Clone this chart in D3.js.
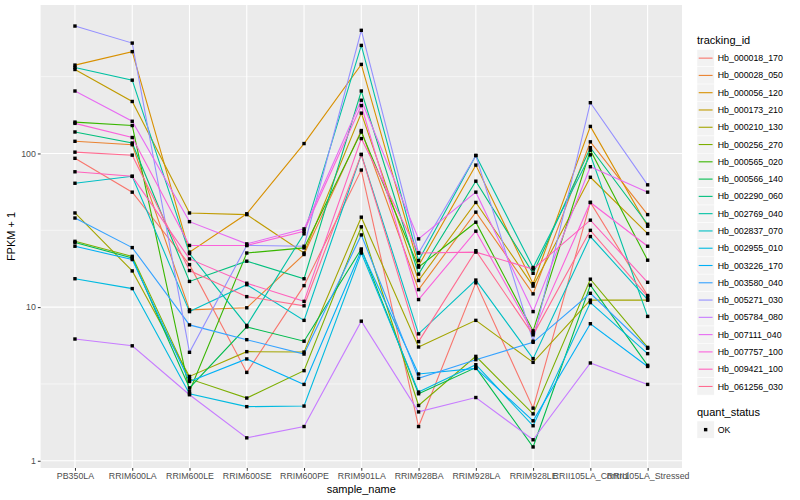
<!DOCTYPE html>
<html>
<head>
<meta charset="utf-8">
<script src="https://cdn.jsdelivr.net/npm/d3@7"></script>
<style>
  body { margin: 0; background: #fff; }
  text { font-family: "Liberation Sans", Arial, Helvetica, sans-serif; }
</style>
</head>
<body>
<script>
const samples = [
  'PB350LA', 'RRIM600LA', 'RRIM600LE', 'RRIM600SE', 'RRIM600PE', 'RRIM901LA',
  'RRIM928BA', 'RRIM928LA', 'RRIM928LE', 'RRII105LA_Control', 'RRII105LA_Stressed'
];

const trackingIds = [
  'Hb_000018_170', 'Hb_000028_050', 'Hb_000056_120', 'Hb_000173_210', 'Hb_000210_130',
  'Hb_000256_270', 'Hb_000565_020', 'Hb_000566_140', 'Hb_002290_060', 'Hb_002769_040',
  'Hb_002837_070', 'Hb_002955_010', 'Hb_003226_170', 'Hb_003580_040', 'Hb_005271_030',
  'Hb_005784_080', 'Hb_007111_040', 'Hb_007757_100', 'Hb_009421_100', 'Hb_061256_030'
];

// FPKM + 1, one row per tracking id, columns in the order of samples
const fpkmPlus1 = [
  [93, 56, 18.9, 3.76, 13.8, 78, 1.67, 14.4, 2.2, 48, 11.9],
  [120, 114, 9.6, 9.9, 22, 141, 13, 41.5, 12.2, 119, 40],
  [376, 460, 22.8, 40.5, 116, 380, 18.6, 84, 14.2, 150, 33.6],
  [352, 218, 41, 40, 22.5, 183, 14.9, 48, 13.7, 70, 30.1],
  [41, 17.2, 3.54, 5.13, 5.1, 38.5, 5.5, 8.2, 4.37, 11.1, 11.1],
  [26.8, 21.4, 3.41, 2.56, 3.86, 33.3, 2.29, 4.78, 2.02, 15.2, 5.47],
  [160, 152, 2.83, 22.5, 24.3, 138, 18.2, 35.7, 7.0, 105, 20.2],
  [26.3, 20.9, 2.98, 7.43, 6.0, 23.9, 2.73, 4.04, 1.23, 13.9, 4.18],
  [138, 117, 14.7, 19.9, 15.3, 255, 16.4, 66, 16.6, 109, 34.6],
  [363, 300, 22.3, 7.6, 30, 505, 20.1, 97, 18.1, 98, 8.7],
  [64, 71, 9.35, 14, 8.2, 98.5, 6.7, 15, 4.62, 28.8, 11.2],
  [15.3, 13.2, 2.73, 2.25, 2.27, 22.5, 2.8, 4.22, 1.69, 10.7, 4.98],
  [24.9, 20.4, 3.28, 4.6, 3.14, 23.4, 3.67, 3.99, 1.82, 7.8, 4.11],
  [38, 24.4, 7.66, 6.14, 4.95, 29.5, 3.44, 4.55, 5.9, 12.3, 5.4],
  [675, 523, 5.08, 25.2, 24.9, 633, 22.5, 97, 6.0, 214, 62.5],
  [6.2, 5.6, 2.69, 1.41, 1.67, 8.1, 2.08, 2.58, 1.37, 4.33, 3.14],
  [255, 162, 36, 25.8, 32.3, 222, 27.8, 56, 9.35, 82, 56],
  [157, 127, 25.2, 25.2, 31.2, 205, 11.2, 31.2, 6.8, 48, 24.9],
  [76, 71, 20.6, 14.3, 10.9, 125, 22.5, 22.8, 17.7, 36.8, 14.5],
  [102, 97.5, 17.3, 11.7, 10.2, 98.5, 5.96, 23.3, 6.6, 31.6, 11.7]
];

const yTicks = [1, 10, 100];
const quantStatus = ['OK'];

// ggplot hue palette, 20 levels
const palette = [
  '#F8766D', '#EA8331', '#D89000', '#C09B00', '#A3A500', '#7CAE00', '#39B600',
  '#00BB4E', '#00BF7D', '#00C1A3', '#00BFC4', '#00BAE0', '#00B0F6', '#35A2FF',
  '#9590FF', '#C77CFF', '#E76BF3', '#FA62DB', '#FF62BC', '#FF6C91'
];

const width = 800;
const height = 500;
const panel = { left: 40.6, right: 682, top: 5, bottom: 468 };

const svg = d3.select('body')
  .append('svg')
  .attr('width', width)
  .attr('height', height);

// SCALES
const xScale = d3.scalePoint()
  .domain(samples)
  .range([panel.left, panel.right])
  .padding(0.6);

const allVals = fpkmPlus1.flat();
const lo = Math.log10(d3.min(allVals));
const hi = Math.log10(d3.max(allVals));
const pad = (hi - lo) * 0.05;
const yScale = d3.scaleLog()
  .domain([Math.pow(10, lo - pad), Math.pow(10, hi + pad)])
  .range([panel.bottom, panel.top]);

const color = d3.scaleOrdinal().domain(trackingIds).range(palette);

// PANEL
svg.append('rect')
  .attr('x', panel.left)
  .attr('y', panel.top)
  .attr('width', panel.right - panel.left)
  .attr('height', panel.bottom - panel.top)
  .attr('fill', '#EBEBEB');

// minor grid (half decades)
const minorTicks = yTicks.map(t => t * Math.sqrt(10));
svg.append('g')
  .selectAll('line')
  .data(minorTicks)
  .enter()
  .append('line')
  .attr('x1', panel.left)
  .attr('x2', panel.right)
  .attr('y1', d => yScale(d))
  .attr('y2', d => yScale(d))
  .attr('stroke', '#fff')
  .attr('stroke-width', 0.55);

svg.append('g')
  .selectAll('line')
  .data(yTicks)
  .enter()
  .append('line')
  .attr('x1', panel.left)
  .attr('x2', panel.right)
  .attr('y1', d => yScale(d))
  .attr('y2', d => yScale(d))
  .attr('stroke', '#fff')
  .attr('stroke-width', 1.1);

svg.append('g')
  .selectAll('line')
  .data(samples)
  .enter()
  .append('line')
  .attr('x1', d => xScale(d))
  .attr('x2', d => xScale(d))
  .attr('y1', panel.top)
  .attr('y2', panel.bottom)
  .attr('stroke', '#fff')
  .attr('stroke-width', 1.1);

// LINES
const line = d3.line()
  .x((d, i) => xScale(samples[i]))
  .y(d => yScale(d));

svg.append('g')
  .selectAll('path')
  .data(fpkmPlus1)
  .enter()
  .append('path')
  .attr('d', d => line(d))
  .attr('fill', 'none')
  .attr('stroke', (d, i) => color(trackingIds[i]))
  .attr('stroke-width', 1.1);

// POINTS
const pts = [];
fpkmPlus1.forEach((row, r) => row.forEach((v, c) => pts.push({ sample: samples[c], v })));
svg.append('g')
  .selectAll('rect')
  .data(pts)
  .enter()
  .append('rect')
  .attr('x', d => xScale(d.sample) - 1.7)
  .attr('y', d => yScale(d.v) - 1.7)
  .attr('width', 3.4)
  .attr('height', 3.4)
  .attr('fill', '#000');

// AXES
const xAxis = d3.axisBottom(xScale).tickSize(2.75).tickPadding(2);
const gx = svg.append('g')
  .attr('transform', `translate(0, ${panel.bottom})`)
  .call(xAxis);
gx.select('.domain').remove();
gx.selectAll('line').attr('stroke', '#333');
gx.selectAll('text').attr('fill', '#4D4D4D').style('font-size', '8.8px');

const yAxis = d3.axisLeft(yScale)
  .tickValues(yTicks)
  .tickFormat(d3.format('d'))
  .tickSize(2.75)
  .tickPadding(2);
const gy = svg.append('g')
  .attr('transform', `translate(${panel.left}, 0)`)
  .call(yAxis);
gy.select('.domain').remove();
gy.selectAll('line').attr('stroke', '#333');
gy.selectAll('text').attr('fill', '#4D4D4D').style('font-size', '8.8px');

// TITLES
svg.append('text')
  .attr('x', (panel.left + panel.right) / 2)
  .attr('y', 493)
  .attr('text-anchor', 'middle')
  .style('font-size', '11px')
  .text('sample_name');

svg.append('text')
  .attr('transform', `translate(15, ${(panel.top + panel.bottom) / 2}) rotate(-90)`)
  .attr('text-anchor', 'middle')
  .style('font-size', '11px')
  .text('FPKM + 1');

// LEGEND
const legend = svg.append('g').attr('transform', 'translate(697, 0)');
const keySize = 17.28;

legend.append('text')
  .attr('x', 0)
  .attr('y', 44)
  .style('font-size', '11px')
  .text('tracking_id');

const items = legend.selectAll('g.item')
  .data(trackingIds)
  .enter()
  .append('g')
  .attr('class', 'item')
  .attr('transform', (d, i) => `translate(0, ${49.5 + i * keySize})`);

items.append('rect')
  .attr('width', keySize)
  .attr('height', keySize)
  .attr('fill', '#F2F2F2')
  .attr('stroke', '#fff')
  .attr('stroke-width', 0.5);

items.append('line')
  .attr('x1', 1.7)
  .attr('x2', keySize - 1.7)
  .attr('y1', keySize / 2)
  .attr('y2', keySize / 2)
  .attr('stroke', d => color(d))
  .attr('stroke-width', 1.1);

items.append('text')
  .attr('x', keySize + 3.5)
  .attr('y', keySize / 2)
  .attr('dy', '0.35em')
  .style('font-size', '8.8px')
  .text(d => d);

legend.append('text')
  .attr('x', 0)
  .attr('y', 416)
  .style('font-size', '11px')
  .text('quant_status');

const qs = legend.selectAll('g.qs')
  .data(quantStatus)
  .enter()
  .append('g')
  .attr('class', 'qs')
  .attr('transform', (d, i) => `translate(0, ${421 + i * keySize})`);

qs.append('rect')
  .attr('width', keySize)
  .attr('height', keySize)
  .attr('fill', '#F2F2F2')
  .attr('stroke', '#fff')
  .attr('stroke-width', 0.5);

qs.append('rect')
  .attr('x', keySize / 2 - 1.7)
  .attr('y', keySize / 2 - 1.7)
  .attr('width', 3.4)
  .attr('height', 3.4)
  .attr('fill', '#000');

qs.append('text')
  .attr('x', keySize + 3.5)
  .attr('y', keySize / 2)
  .attr('dy', '0.35em')
  .style('font-size', '8.8px')
  .text(d => d);
</script>
</body>
</html>
